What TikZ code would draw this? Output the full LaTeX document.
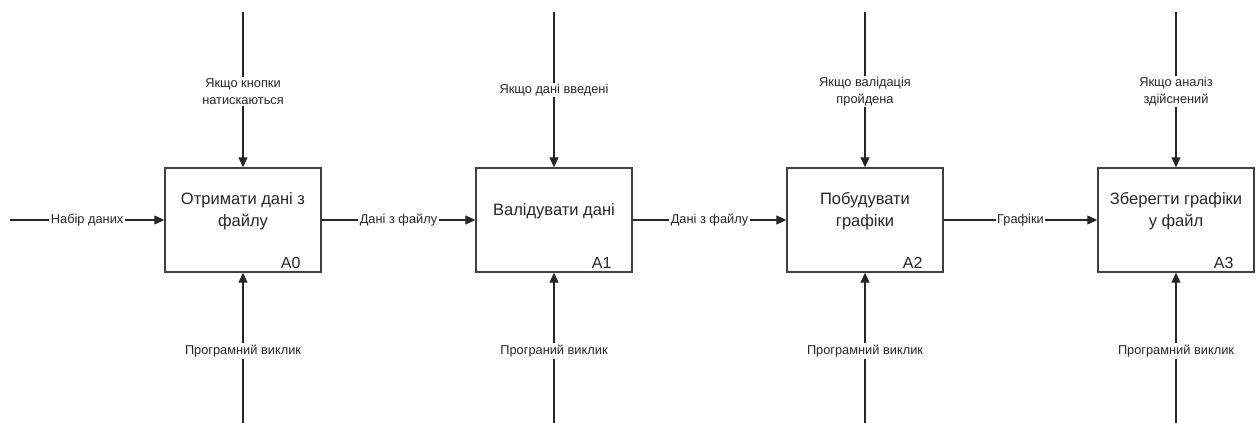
\documentclass[tikz,border=0pt]{standalone}
\usepackage{fontspec}
\setmainfont{Liberation Sans}
\usetikzlibrary{arrows.meta}
\begin{document}
\begin{tikzpicture}[x=1pt,y=-1pt,
  fn/.style={draw=black!75,line width=1.4pt,minimum width=156pt,minimum height=104pt,inner sep=0pt,fill=white},
  flow/.style={draw=black!85,line width=1.1pt,-{Triangle[length=10pt,width=9pt]}},
  lbl/.style={fill=white,font=\fontsize{12.8}{17}\selectfont,inner sep=1.5pt,align=center,text=black!85},
  btxt/.style={font=\fontsize{16.5}{22}\selectfont,align=center,text=black!85},
  idx/.style={font=\fontsize{16}{18}\selectfont,text=black!85}]
\useasboundingbox (0,0) rectangle (1259,423);
\fill[white] (0,0) rectangle (1259,423);

% boxes
\node[fn] (A0) at (243,220) {};
\node[fn] (A1) at (554,220) {};
\node[fn] (A2) at (865,220) {};
\node[fn] (A3) at (1176,220) {};

\node[btxt] (t0) at (243,211) {Отримати дані з\\файлу};
\node[btxt] (t1) at (554,211) {Валідувати дані};
\node[btxt] (t2) at (865,211) {Побудувати\\графіки};
\node[btxt] (t3) at (1176,211) {Зберегти графіки\\у файл};

\node[idx,anchor=base east] (n0) at (304,268) {A0};
\node[idx,anchor=base east] (n1) at (615,268) {A1};
\node[idx,anchor=base east] (n2) at (926,268) {A2};
\node[idx,anchor=base east] (n3) at (1237,268) {A3};

% free ends
\coordinate (in0) at (10,220);
\coordinate (c0) at (243,12);
\coordinate (c1) at (554,12);
\coordinate (c2) at (865,12);
\coordinate (c3) at (1176,12);
\coordinate (m0) at (243,423);
\coordinate (m1) at (554,423);
\coordinate (m2) at (865,423);
\coordinate (m3) at (1176,423);

% inputs / outputs
\draw[flow] (in0) -- (A0.west) node[lbl,pos=0.5] {Набір даних};
\draw[flow] (A0.east) -- (A1.west) node[lbl,pos=0.5] {Дані з файлу};
\draw[flow] (A1.east) -- (A2.west) node[lbl,pos=0.5] {Дані з файлу};
\draw[flow] (A2.east) -- (A3.west) node[lbl,pos=0.5] {Графіки};

% controls
\draw[flow] (c0) -- (A0.north);
\node[lbl] (l0) at (243,91.5) {Якщо кнопки\\натискаються};
\draw[flow] (c1) -- (A1.north);
\node[lbl] (l1) at (554,90) {Якщо дані введені};
\draw[flow] (c2) -- (A2.north);
\node[lbl] (l2) at (865,91.5) {Якщо валідація\\пройдена};
\draw[flow] (c3) -- (A3.north);
\node[lbl] (l3) at (1176,91.5) {Якщо аналіз\\здійснений};

% mechanisms
\draw[flow] (m0) -- (A0.south);
\node[lbl] (b0) at (243,351) {Програмний виклик};
\draw[flow] (m1) -- (A1.south);
\node[lbl] (b1) at (554,351) {Програний виклик};
\draw[flow] (m2) -- (A2.south);
\node[lbl] (b2) at (865,351) {Програмний виклик};
\draw[flow] (m3) -- (A3.south);
\node[lbl] (b3) at (1176,351) {Програмний виклик};
\end{tikzpicture}
\end{document}
